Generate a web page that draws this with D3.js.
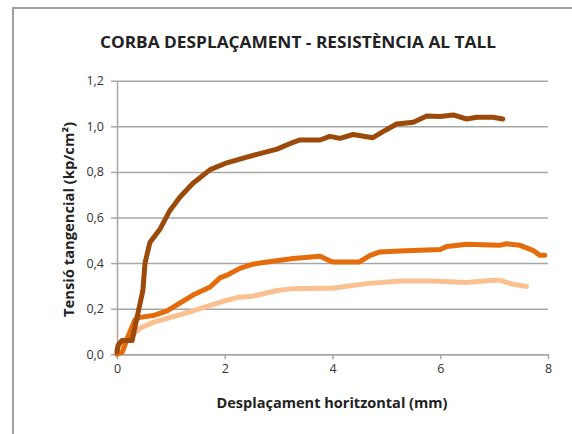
<!DOCTYPE html>
<meta charset="utf-8">
<style>

body { margin: 0; background: #fff; }
text { font-family: "Open Sans", "Noto Sans", sans-serif; fill: #222; }
.grid line { stroke: #a6a6a6; stroke-width: 1.5px; }
.grid path { display: none; }
.axis path, .axis line { stroke: #a6a6a6; stroke-width: 1.5px; }
.axis text { font-size: 12.5px; fill: #333; }
.curve { fill: none; stroke-width: 5px; stroke-linejoin: round; stroke-linecap: round; }

</style>
<body>

<script src="https://cdnjs.cloudflare.com/ajax/libs/d3/7.8.5/d3.min.js"></script>
<script>

// data: [displacement mm, stress kp/cm2]
var serieFosca = [
  [0, 0.01], [0.02, 0.04], [0.09, 0.06], [0.28, 0.06], [0.38, 0.17], [0.48, 0.28],
  [0.52, 0.40], [0.61, 0.49], [0.8, 0.55], [0.98, 0.63], [1.17, 0.69], [1.41, 0.75],
  [1.73, 0.81], [2.04, 0.84], [2.41, 0.865], [2.65, 0.88], [2.97, 0.90], [3.27, 0.93],
  [3.4, 0.94], [3.77, 0.94], [3.95, 0.956], [4.14, 0.947], [4.38, 0.964], [4.75, 0.95],
  [5.0, 0.985], [5.19, 1.01], [5.5, 1.018], [5.75, 1.045], [6.0, 1.043], [6.24, 1.05],
  [6.49, 1.032], [6.68, 1.04], [6.98, 1.04], [7.16, 1.032]
];
var serieTaronja = [
  [0, 0], [0.1, 0.01], [0.2, 0.075], [0.33, 0.15], [0.43, 0.162], [0.67, 0.17],
  [0.93, 0.19], [1.41, 0.26], [1.73, 0.295], [1.91, 0.335], [2.04, 0.347], [2.28, 0.377],
  [2.52, 0.395], [2.65, 0.40], [3.27, 0.42], [3.77, 0.43], [4.0, 0.405], [4.5, 0.405],
  [4.7, 0.434], [4.88, 0.449], [5.25, 0.453], [6.0, 0.46], [6.12, 0.473], [6.49, 0.483],
  [7.1, 0.478], [7.23, 0.485], [7.48, 0.478], [7.72, 0.456], [7.85, 0.434], [7.94, 0.434]
];
var serieClara = [
  [0, 0.02], [0.09, 0.05], [0.24, 0.075], [0.43, 0.115], [0.67, 0.14], [1.11, 0.17],
  [1.41, 0.19], [1.73, 0.215], [2.04, 0.237], [2.25, 0.25], [2.52, 0.255], [2.97, 0.28],
  [3.27, 0.288], [3.77, 0.29], [4.0, 0.29], [4.63, 0.31], [5.25, 0.322], [5.87, 0.322],
  [6.49, 0.315], [6.98, 0.325], [7.1, 0.325], [7.35, 0.307], [7.6, 0.298]
];
var xTicks = [0, 2, 4, 6, 8];
var yTicks = [0, 0.2, 0.4, 0.6, 0.8, 1.0, 1.2];

var margin = {top: 80.7, left: 117},
    width = 431,
    height = 273.6;

var x = d3.scaleLinear().domain([0, 8]).range([0, width]);
var y = d3.scaleLinear().domain([0, 1.2]).range([height, 0]);

var svgRoot = d3.select("body").append("svg")
    .attr("width", 572)
    .attr("height", 434);

// chart frame (only top and left edges are visible)
svgRoot.append("path")
    .attr("d", "M13,440 L13,8 L580,8")
    .attr("fill", "none")
    .attr("stroke", "#a0a0a0")
    .attr("stroke-width", 2);

svgRoot.append("text")
    .attr("x", 298)
    .attr("y", 48)
    .attr("text-anchor", "middle")
    .attr("textLength", 396)
    .attr("lengthAdjust", "spacingAndGlyphs")
    .style("font-size", "16px")
    .style("font-weight", "bold")
    .text("CORBA DESPLAÇAMENT - RESISTÈNCIA AL TALL");

var svg = svgRoot.append("g")
    .attr("transform", "translate(" + margin.left + "," + margin.top + ")");

var fmt = function(d) { return d.toFixed(1).replace(".", ","); };

// horizontal gridlines
svg.append("g")
    .attr("class", "grid")
    .call(d3.axisLeft(y).tickValues(yTicks).tickSize(-width).tickFormat(""));

// y axis
svg.append("g")
    .attr("class", "axis")
    .call(d3.axisLeft(y).tickValues(yTicks).tickSize(6).tickSizeOuter(0).tickPadding(7).tickFormat(fmt));

// x axis
svg.append("g")
    .attr("class", "axis")
    .attr("transform", "translate(0," + height + ")")
    .call(d3.axisBottom(x).tickValues(xTicks).tickSize(5).tickSizeOuter(0).tickPadding(5));

var line = d3.line()
    .x(function(d) { return x(d[0]); })
    .y(function(d) { return y(d[1]); });

svg.append("path").datum(serieClara).attr("class", "curve").attr("stroke", "#fac090").attr("d", line);
svg.append("path").datum(serieTaronja).attr("class", "curve").attr("stroke", "#e46c0a").attr("d", line);
svg.append("path").datum(serieFosca).attr("class", "curve").attr("stroke", "#9c4a0a").attr("d", line);

// axis titles
svg.append("text")
    .attr("x", 215)
    .attr("y", height + 54)
    .attr("text-anchor", "middle")
    .attr("textLength", 231)
    .attr("lengthAdjust", "spacingAndGlyphs")
    .style("font-size", "13.5px")
    .style("font-weight", "bold")
    .text("Desplaçament  horitzontal  (mm)");

svg.append("text")
    .attr("transform", "translate(-43," + (height / 2 + 2) + ") rotate(-90)")
    .attr("text-anchor", "middle")
    .attr("textLength", 195)
    .attr("lengthAdjust", "spacingAndGlyphs")
    .style("font-size", "13.5px")
    .style("font-weight", "bold")
    .text("Tensió tangencial (kp/cm²)");

</script>
</body>
